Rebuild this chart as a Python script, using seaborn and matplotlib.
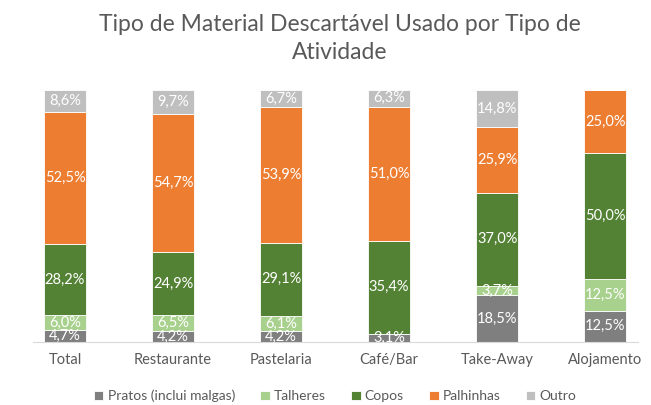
import numpy as np
import pandas as pd
import matplotlib.pyplot as plt
import seaborn as sns

# Data (percentages per activity type)
atividades = ['Total', 'Restaurante', 'Pastelaria', 'Café/Bar', 'Take-Away', 'Alojamento']
pratos = [4.7, 4.2, 4.2, 3.1, 18.5, 12.5]
talheres = [6.0, 6.5, 6.1, 0.0, 3.7, 12.5]
copos = [28.2, 24.9, 29.1, 35.4, 37.0, 50.0]
palhinhas = [52.5, 54.7, 53.9, 51.0, 25.9, 25.0]
outro = [8.6, 9.7, 6.7, 6.3, 14.8, 0.0]

series = ['Pratos (inclui malgas)', 'Talheres', 'Copos', 'Palhinhas', 'Outro']
colors = ['#7f7f7f', '#a9d18e', '#548235', '#ed7d31', '#bfbfbf']

df = pd.DataFrame({'atividade': atividades, series[0]: pratos, series[1]: talheres,
                   series[2]: copos, series[3]: palhinhas, series[4]: outro})

sns.set_style('white')
plt.rcParams['font.family'] = ['Lato', 'DejaVu Sans']

fig = plt.figure(figsize=(6.51, 4.05), dpi=100)
ax = fig.add_axes([32.6 / 651, 63 / 405, 605 / 651, 252 / 405])

# 100% stacked columns
totals = df[series].sum(axis=1)
bottom = np.zeros(len(df))
for s, c in zip(series, colors):
    share = (df[s] / totals * 100).values
    sns.barplot(x=df['atividade'], y=share, bottom=bottom, color=c, saturation=1,
                width=0.39, edgecolor='white', linewidth=0.6, ax=ax, label=s)
    for i, (v, h) in enumerate(zip(df[s], share)):
        if v > 0:
            ax.text(i, bottom[i] + h / 2, f'{v:.1f}%'.replace('.', ','),
                    ha='center', va='center', color='white', fontsize=10.5)
    bottom += share

ax.set_xlim(-0.3, 5.3)
ax.set_ylim(0, 100)
ax.set_xlabel('')
ax.set_ylabel('')
ax.set_yticks([])
for sp in ['top', 'right', 'left']:
    ax.spines[sp].set_visible(False)
ax.spines['bottom'].set_color('#d9d9d9')
ax.tick_params(axis='x', length=0, labelsize=10.5, colors='#595959', pad=8)

fig.suptitle('Tipo de Material Descartável Usado por Tipo de\nAtividade',
             x=340 / 651, y=0.965, fontsize=16.5, color='#595959', linespacing=1.4)

ax.legend(loc='center', bbox_to_anchor=(0.5, -0.215), ncol=5, frameon=False,
          fontsize=10, labelcolor='#595959', handlelength=0.7, handleheight=0.7,
          handletextpad=0.3, columnspacing=1.8)

fig.savefig('out.png', dpi=100)
